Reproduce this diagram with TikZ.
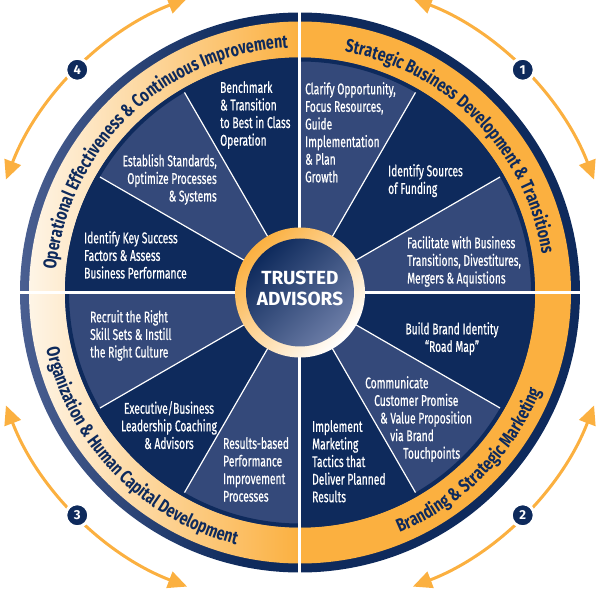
\documentclass[tikz,border=0pt]{standalone}
\usepackage{fontspec}
\setmainfont{Fira Sans}
\newfontfamily\wedgefont{Fira Sans}[FakeStretch=0.66, FakeBold=0.6]
\newfontfamily\bandfont{Fira Sans}[FakeStretch=0.77]
\newcommand\bandstyle{\bandfont\bfseries\fontsize{18.5}{18.5}\selectfont}
\usetikzlibrary{arrows.meta}
\definecolor{navy}{HTML}{0E2A5C}
\definecolor{slate}{HTML}{34497A}
\definecolor{gold}{HTML}{FBB040}
\definecolor{ringblue}{HTML}{4A5F91}
\definecolor{discblue}{HTML}{6B7CA6}
\pgfdeclarehorizontalshading{rimshade}{100bp}{color(0bp)=(ringblue); color(25bp)=(ringblue); color(45bp)=(navy); color(100bp)=(navy)}
\pgfdeclarehorizontalshading{bandshade}{100bp}{color(0bp)=(gold!6); color(23bp)=(gold!6); color(50bp)=(gold); color(100bp)=(gold)}
\newcommand\placechar[4]{\node[bandchar, rotate=#3] at (#1:#2) {#4};}
\ExplSyntaxOn
\dim_new:N \l_arc_total_dim
\dim_new:N \l_arc_char_dim
\fp_new:N \l_arc_pos_fp
\str_new:N \l_arc_str
\tl_new:N \l_arc_angle_tl
\tl_new:N \l_arc_turn_tl
\tl_new:N \g_band_tl
\cs_new_protected:Npn \bandprep #1#2#3#4
	{
		\str_set:Nn \l_arc_str {#4}
		\hbox_set:Nn \l_tmpa_box { \bandstyle \str_use:N \l_arc_str }
		\dim_set:Nn \l_arc_total_dim { \box_wd:N \l_tmpa_box }
		\fp_set:Nn \l_arc_pos_fp { #2 - (#3) * ( \dim_to_fp:n { \l_arc_total_dim } / 2 ) / (#1) * 180 / pi }
		\str_map_inline:Nn \l_arc_str
			{
				\hbox_set:Nn \l_tmpb_box { \bandstyle ##1 }
				\dim_set:Nn \l_arc_char_dim { \box_wd:N \l_tmpb_box }
				\tl_set:Nx \l_arc_angle_tl { \fp_eval:n { \l_arc_pos_fp + (#3) * ( \dim_to_fp:n { \l_arc_char_dim } / 2 ) / (#1) * 180 / pi } }
				\tl_set:Nx \l_arc_turn_tl { \fp_eval:n { \l_arc_angle_tl + (#3) * 90 } }
				\tl_gput_right:Nx \g_band_tl { \exp_not:N \placechar { \l_arc_angle_tl } {#1} { \l_arc_turn_tl } { \exp_not:n {##1} } }
				\fp_set:Nn \l_arc_pos_fp { \l_arc_pos_fp + (#3) * \dim_to_fp:n { \l_arc_char_dim } / (#1) * 180 / pi }
			}
	}
\cs_new_protected:Npn \bandput { \tl_use:N \g_band_tl }
\ExplSyntaxOff

\begin{document}
\bandprep{245}{44.5}{-1}{Strategic Business Development & Transitions}%
\bandprep{245}{134}{-1}{Operational Effectiveness & Continuous Improvement}%
\bandprep{260}{224}{1}{Organization & Human Capital Development}%
\bandprep{260}{315}{1}{Branding & Strategic Marketing}%
\begin{tikzpicture}[x=1pt, y=1pt,
	wedgetext/.style={text=white, font=\wedgefont\fontsize{15.5}{17.6}\selectfont, inner sep=0pt},
	bandchar/.style={anchor=base, inner sep=0pt, text=navy, font=\bandstyle},
	sector/.style={white, line width=1.2pt},
	badge/.style={circle, fill=navy, draw=white, line width=3pt, minimum size=23pt, inner sep=0pt, text=white, font=\bfseries\fontsize{13}{13}\selectfont},
	looparrow/.style={gold, line width=3pt, {Triangle[length=19pt, width=17pt]}-{Triangle[length=19pt, width=17pt]}}
]
	\useasboundingbox (-300,-296.5) rectangle (300,292.5);
	\shade[shading=rimshade] (0,0) circle[radius=280];
	\shade[shading=bandshade] (0,0) circle[radius=271];
	\foreach \a/\c in {0/slate,30/navy,60/slate,90/navy,120/slate,150/navy,180/slate,210/navy,240/slate,270/navy,300/slate,330/navy}
		\fill[\c] (0,0) -- (\a:235) arc[start angle=\a, delta angle=30, radius=235] -- cycle;
	\draw[navy, line width=4pt] (0,0) circle[radius=233];
	\foreach \a in {30,60,120,150,210,240,300,330}
		\draw[sector] (\a:60) -- (\a:231);
	\foreach \a in {0,90,180,270}
		\draw[white, line width=3pt] (\a:60) -- (\a:282);
	\shade[top color=gold, bottom color=white, shading angle=45] (0,0) circle[radius=65];
	\shade[top color=navy, bottom color=discblue, shading angle=45] (0,0) circle[radius=54];
	\node[text=white, align=center, font=\bfseries\fontsize{19}{21}\selectfont] (core) at (0,4) {TRUSTED\\ADVISORS};

	\node[wedgetext, anchor=north west, align=left] (bench) at (-80,211.5) {Benchmark\\\& Transition\\to Best in Class\\Operation};
	\node[wedgetext, anchor=north east, align=right] (standards) at (-83,138.5) {Establish Standards,\\Optimize Processes\\\& Systems};
	\node[wedgetext, anchor=north west, align=left] (success) at (-216,61.5) {Identify Key Success\\Factors \& Assess\\Business Performance};
	\node[wedgetext, anchor=north west, align=left] (clarify) at (5,210.5) {Clarify Opportunity,\\Focus Resources,\\Guide\\Implementation\\\& Plan\\Growth};
	\node[wedgetext, anchor=north west, align=left] (funding) at (88,128.5) {Identify Sources\\of Funding};
	\node[wedgetext, anchor=north west, align=left] (facilitate) at (107,56.5) {Facilitate with Business\\Transitions, Divestitures,\\Mergers \& Aquistions};
	\node[wedgetext, anchor=north, align=center] (brand) at (152,-29.5) {Build Brand Identity\\“Road Map”};
	\node[wedgetext, anchor=north west, align=left] (promise) at (65,-83.5) {Communicate\\\hspace*{9pt}Customer Promise\\\hspace*{15pt}\& Value Proposition\\\hspace*{25pt}via Brand\\\hspace*{38pt}Touchpoints};
	\node[wedgetext, anchor=north west, align=left] (tactics) at (12,-127.5) {Implement\\Marketing\\Tactics that\\Deliver Planned\\Results};
	\node[wedgetext, anchor=north west, align=left] (recruit) at (-210,-17.5) {Recruit the Right\\Skill Sets \& Instill\\the Right Culture};
	\node[wedgetext, anchor=north, align=center] (coaching) at (-131,-108.5) {Executive/Business\\Leadership Coaching\\\& Advisors};
	\node[wedgetext, anchor=north west, align=left] (results) at (-77,-144.5) {Results-based\\Performance\\Improvement\\Processes};

	\bandput

	\foreach \c/\n in {45/1,315/2,225/3,135/4} {
		\pgfmathsetmacro\s{\c+24}
		\pgfmathsetmacro\e{\c-24}
		\draw[looparrow] (\s:315) arc[start angle=\s, end angle=\e, radius=315];
		\node[badge] (badge\n) at (\c:315) {\n};
	}
\end{tikzpicture}
\end{document}
